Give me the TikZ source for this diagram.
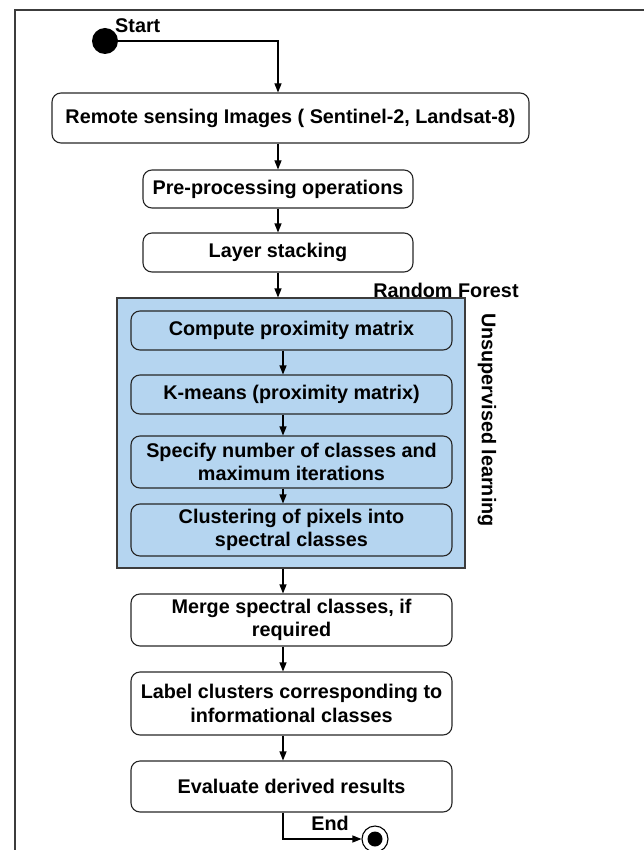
\documentclass[tikz,border=0pt]{standalone}
\usepackage{fontspec}
\setmainfont{Liberation Sans}
\usetikzlibrary{positioning,arrows.meta}
\definecolor{rfblue}{RGB}{181,213,240}
\definecolor{framegray}{RGB}{60,60,60}
\tikzset{
  stepbox/.style={draw=black!85, rounded corners=9pt, align=center, line width=1.1pt, inner sep=0pt, font=\bfseries\fontsize{19.8}{23.5}\selectfont},
  innerbox/.style={stepbox, fill=rfblue, minimum width=321pt},
  arr/.style={-{Triangle[length=9pt,width=7pt]}, line width=1.1pt},
  lbl/.style={font=\bfseries\fontsize{19.8}{23.5}\selectfont, inner sep=0pt}
}
\begin{document}
\begin{tikzpicture}[x=1pt,y=1pt]
\useasboundingbox (0,0) rectangle (644,-850);
% outer frame
\draw[framegray, line width=2pt] (15,-850) -- (15,-10) -- (644,-10);
\coordinate (axis) at (278,0);
\coordinate (axisb) at (283,0);
% start and end
\node[circle, fill=black, minimum size=26pt, inner sep=0pt] (start) at (105,-41) {};
\node[lbl, anchor=west] (startlbl) at (115,-26) {Start};
\node[circle, draw, line width=1.1pt, fill=white, minimum size=26pt, inner sep=0pt] (stop) at (375,-839) {};
\node[circle, fill=black, minimum size=15pt, inner sep=0pt] at (stop) {};
\node[lbl] (stoplbl) at (330,-823) {End};
% main steps
\node[stepbox, minimum width=477pt, minimum height=50pt] (remote) at (290.5,-118) {Remote sensing Images ( Sentinel-2, Landsat-8)};
\node[stepbox, minimum width=270pt, minimum height=38pt] (prep) at (278,-189) {Pre-processing operations};
\node[stepbox, minimum width=270pt, minimum height=39pt] (stack) at (278,-252.5) {Layer stacking};
% random forest block
\node[draw=framegray, fill=rfblue, line width=1.1pt, minimum width=348pt, minimum height=270pt, inner sep=0pt] (rf) at (291,-433) {};
\node[lbl] (rflbl) at (446,-290) {Random Forest};
\node[lbl, rotate=-90] (unsup) at (487,-420) {Unsupervised learning};
\node[innerbox, minimum height=39pt] (prox) at (291.5,-330.5) {Compute proximity matrix};
\node[innerbox, minimum height=39pt] (kmeans) at (291.5,-394.5) {K-means (proximity matrix)};
\node[innerbox, minimum height=52pt] (spec) at (291.5,-462) {Specify number of classes and\\maximum iterations};
\node[innerbox, minimum height=52pt] (clust) at (291.5,-530) {Clustering of pixels into\\spectral classes};
% after clustering
\node[stepbox, minimum width=321pt, minimum height=52pt] (merge) at (291.5,-620) {Merge spectral classes, if\\required};
\node[stepbox, minimum width=321pt, minimum height=63pt] (label) at (291.5,-703.5) {Label clusters corresponding to\\informational classes};
\node[stepbox, minimum width=321pt, minimum height=51pt] (eval) at (291.5,-786.5) {Evaluate derived results};
% connectors
\draw[arr] (start.east) -| (remote.north -| axis);
\draw[arr] (remote.south -| axis) -- (prep.north -| axis);
\draw[arr] (prep.south -| axis) -- (stack.north -| axis);
\draw[arr] (stack.south -| axis) -- (rf.north -| axis);
\draw[arr] (prox.south -| axisb) -- (kmeans.north -| axisb);
\draw[arr] (kmeans.south -| axisb) -- (spec.north -| axisb);
\draw[arr] (spec.south -| axisb) -- (clust.north -| axisb);
\draw[arr] (rf.south -| axisb) -- (merge.north -| axisb);
\draw[arr] (merge.south -| axisb) -- (label.north -| axisb);
\draw[arr] (label.south -| axisb) -- (eval.north -| axisb);
\draw[arr] (eval.south -| axisb) |- (stop.west);
\end{tikzpicture}
\end{document}
